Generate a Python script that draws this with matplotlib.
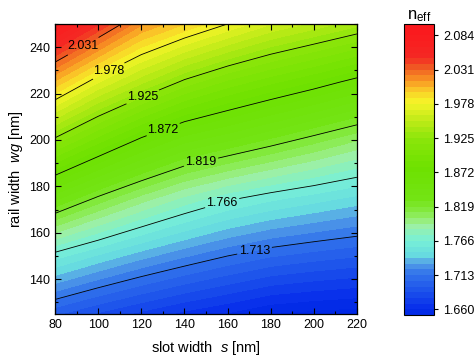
import numpy as np
import matplotlib
matplotlib.use('Agg')
import matplotlib.pyplot as plt
from matplotlib.colors import LinearSegmentedColormap, Normalize
from matplotlib.cm import ScalarMappable

plt.rcParams['font.family'] = ['Liberation Sans', 'DejaVu Sans']
plt.rcParams['mathtext.fontset'] = 'custom'
plt.rcParams['mathtext.rm'] = 'Liberation Sans'
plt.rcParams['mathtext.it'] = 'Liberation Sans:italic'

# grid
s_nm = [80, 100, 120, 140, 160, 180, 200, 220]
wg_nm = [125, 150, 175, 200, 225, 250]
neff = [
    [1.697, 1.685, 1.675, 1.666, 1.659, 1.651, 1.648, 1.646],
    [1.761, 1.747, 1.734, 1.723, 1.713, 1.705, 1.700, 1.696],
    [1.840, 1.817, 1.798, 1.782, 1.769, 1.760, 1.753, 1.746],
    [1.922, 1.894, 1.869, 1.849, 1.838, 1.826, 1.814, 1.802],
    [2.003, 1.970, 1.945, 1.922, 1.905, 1.892, 1.880, 1.867],
    [2.085, 2.050, 2.015, 1.996, 1.978, 1.961, 1.949, 1.937],
]
line_levels = [1.713, 1.766, 1.819, 1.872, 1.925, 1.978, 2.031]
cbar_ticks = [1.660, 1.713, 1.766, 1.819, 1.872, 1.925, 1.978, 2.031, 2.084]
label_spots = [(172.7, 151.5), (157.3, 173.6), (147.7, 190.6), (130.2, 204.4),
               (120.9, 218.0), (104.7, 230.1), (93.1, 240.4)]

vmin, vmax = 1.652, 2.093
nodes = [
    (1.652, (0, 40, 230)), (1.665, (10, 50, 235)), (1.690, (30, 85, 235)),
    (1.713, (50, 115, 235)), (1.733, (85, 160, 230)), (1.740, (100, 215, 225)),
    (1.766, (120, 240, 215)), (1.790, (160, 240, 160)), (1.810, (135, 235, 70)),
    (1.830, (115, 228, 20)), (1.880, (110, 225, 0)), (1.925, (140, 230, 10)),
    (1.955, (195, 235, 25)), (1.980, (245, 245, 40)), (2.000, (250, 200, 40)),
    (2.015, (248, 150, 35)), (2.035, (240, 90, 35)), (2.050, (245, 40, 35)),
    (2.093, (250, 25, 30)),
]
cmap = LinearSegmentedColormap.from_list(
    'origin', [((v - vmin) / (vmax - vmin), tuple(c / 255 for c in col)) for v, col in nodes])
norm = Normalize(vmin, vmax)

fig = plt.figure(figsize=(4.74, 3.58), dpi=100)
ax = fig.add_axes([0.116, 0.123, 0.637, 0.810])
cax = fig.add_axes([0.852, 0.120, 0.064, 0.813])

S, W = np.meshgrid(s_nm, wg_nm)
Z = np.array(neff)
fill_levels = 1.660 + 0.053 / 6 * np.arange(-2, 50)
cf = ax.contourf(S, W, Z, levels=fill_levels, cmap=cmap, norm=norm)
cs = ax.contour(S, W, Z, levels=line_levels, colors='k', linewidths=0.6)
labels = ax.clabel(cs, fmt='%.3f', fontsize=9, inline=True, inline_spacing=2, manual=label_spots)
for t in labels:
    t.set_rotation(0)

ax.set_xlim(80, 220)
ax.set_ylim(125, 250)
ax.set_xticks(range(80, 221, 20))
ax.set_xticks(range(90, 220, 20), minor=True)
ax.set_yticks(range(140, 241, 20))
ax.set_yticks(range(130, 251, 20), minor=True)
ax.tick_params(which='both', direction='in', top=True, right=True, labelsize=9, width=0.8)
ax.tick_params(which='major', length=4)
ax.tick_params(which='minor', length=2.5)
for sp in ax.spines.values():
    sp.set_linewidth(0.9)
ax.set_xlabel(r'slot width  $\mathit{s}$ [nm]', fontsize=10.5, labelpad=6)
ax.set_ylabel(r'rail width  $\mathit{wg}$ [nm]', fontsize=10.5, labelpad=3)

bounds = np.concatenate([[vmin], fill_levels[(fill_levels > vmin) & (fill_levels < vmax)], [vmax]])
cb = fig.colorbar(ScalarMappable(norm=norm, cmap=cmap), cax=cax, ticks=cbar_ticks,
                  boundaries=bounds)
cb.ax.yaxis.set_major_formatter(matplotlib.ticker.FormatStrFormatter('%.3f'))
cb.ax.tick_params(labelsize=9, length=3, width=0.8, direction='out')
cb.outline.set_linewidth(0.8)
cb.ax.minorticks_off()
fig.text(0.884, 0.955, r'n$_{\rm eff}$', fontsize=12, ha='center', va='center')

fig.savefig('out.png', dpi=100)
